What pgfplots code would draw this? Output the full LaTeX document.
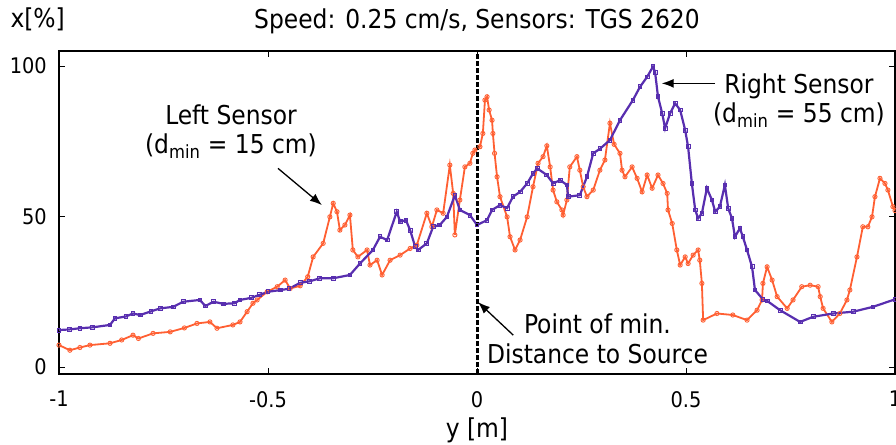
\documentclass[border=0pt]{standalone}
\usepackage{fontspec}
\setmainfont{DejaVu Sans Condensed}
\usepackage{pgfplots}
\pgfplotsset{compat=1.18}
\usetikzlibrary{arrows.meta}
\definecolor{blueC}{RGB}{88,46,175}
\definecolor{orangeC}{RGB}{255,95,50}
\newcommand\tx{\fontsize{26}{31}\selectfont}
\newcommand\tk{\fontsize{21.5}{25}\selectfont}
\begin{document}
\begin{tikzpicture}
\begin{axis}[
 width=836pt, height=323pt, scale only axis,
 xmin=-1, xmax=1, ymin=-2.3, ymax=105,
 xtick={-1,-0.5,0,0.5,1}, xticklabels={-1,-0.5,0,0.5,1},
 ytick={0,50,100}, yticklabels={0,50,100},
 tick align=inside, major tick length=6pt,
 tick style={black, line width=1pt},
 axis line style={line width=1.2pt},
 xticklabel style={font=\tk, inner sep=0pt, yshift=-17pt},
 yticklabel style={font=\tk, inner sep=0pt, xshift=-12pt},
 clip=false,
]
% Left sensor (orange)
\addplot[color=orangeC, line width=1.8pt, mark=o, mark size=2.1pt, mark options={solid, line width=0.9pt}] coordinates {
(-1.000,7.3) (-0.974,5.6) (-0.950,6.5) (-0.926,7.3) (-0.878,7.9) (-0.850,9.0)
(-0.823,10.6) (-0.810,9.5) (-0.775,11.2) (-0.734,11.7) (-0.700,13.0) (-0.670,14.5)
(-0.639,15.0) (-0.622,12.9) (-0.584,14.0) (-0.567,15.0) (-0.550,18.4) (-0.536,21.2)
(-0.526,22.3) (-0.502,25.0) (-0.478,26.7) (-0.459,28.9) (-0.447,26.1) (-0.423,27.0)
(-0.405,30.0) (-0.392,36.6) (-0.368,41.1) (-0.352,49.9) (-0.344,54.4) (-0.335,51.6)
(-0.328,45.5) (-0.316,47.2) (-0.304,50.5) (-0.297,38.9) (-0.285,36.6) (-0.263,38.9)
(-0.256,33.9) (-0.239,35.5) (-0.227,30.6) (-0.208,35.5) (-0.184,37.2) (-0.160,39.4)
(-0.144,40.5) (-0.120,51.1) (-0.108,46.6) (-0.096,52.2) (-0.081,51.1) (-0.065,67.1)
(-0.057,57.7) (-0.053,43.9) (-0.041,55.5) (-0.029,66.5) (-0.017,67.7) (-0.010,71.0)
(-0.005,72.1) (0.007,73.2) (0.014,77.6) (0.019,88.7) (0.024,89.8) (0.029,85.4)
(0.036,82.0) (0.038,77.6) (0.042,71.0) (0.048,63.2) (0.055,56.6) (0.072,49.9)
(0.079,43.3) (0.091,38.9) (0.103,42.2) (0.120,49.9) (0.134,59.9) (0.146,67.7)
(0.158,69.9) (0.167,73.5) (0.175,66.5) (0.182,58.8) (0.191,54.9) (0.203,52.2)
(0.206,50.5) (0.215,55.5) (0.222,66.5) (0.239,69.9) (0.246,65.4) (0.254,59.9)
(0.263,56.6) (0.278,58.8) (0.294,65.4) (0.306,68.8) (0.318,81.0) (0.328,74.0)
(0.342,71.0) (0.347,65.4) (0.354,63.2) (0.371,66.5) (0.383,62.7) (0.395,58.2)
(0.407,63.8) (0.419,59.4) (0.433,63.8) (0.445,61.0) (0.455,57.7) (0.457,52.2)
(0.467,47.7) (0.478,38.9) (0.486,33.9) (0.498,36.6) (0.505,34.4) (0.517,37.2)
(0.529,38.9) (0.533,35.5) (0.538,27.8) (0.541,15.6) (0.574,17.8) (0.612,17.3)
(0.646,15.6) (0.670,18.9) (0.682,22.3) (0.684,27.8) (0.694,33.3) (0.706,28.9)
(0.718,23.4) (0.742,19.5) (0.756,22.3) (0.777,26.7) (0.797,27.2) (0.816,26.7)
(0.821,23.4) (0.828,19.5) (0.849,15.0) (0.868,17.8) (0.885,22.3) (0.892,25.6)
(0.909,36.6) (0.923,46.6) (0.935,46.6) (0.945,49.9) (0.952,56.6) (0.964,62.7)
(0.976,61.0) (0.983,58.8) (0.995,53.3) (1.000,52.0)
};
% Right sensor (blue)
\addplot[color=blueC, line width=2.2pt, mark=square, mark size=1.9pt, mark options={solid, line width=0.9pt}] coordinates {
(-1.000,12.3) (-0.975,12.5) (-0.950,12.9) (-0.920,13.2) (-0.878,14.0) (-0.866,16.2)
(-0.840,16.8) (-0.823,17.8) (-0.806,17.3) (-0.780,18.5) (-0.758,19.5) (-0.727,20.0)
(-0.703,21.7) (-0.663,22.3) (-0.650,20.3) (-0.630,21.7) (-0.607,21.0) (-0.580,21.2)
(-0.567,22.3) (-0.540,23.0) (-0.520,24.0) (-0.500,25.0) (-0.470,25.6) (-0.450,26.0)
(-0.423,28.0) (-0.400,28.5) (-0.376,29.5) (-0.344,29.5) (-0.304,30.6) (-0.280,34.4)
(-0.249,38.9) (-0.232,43.3) (-0.215,42.2) (-0.192,51.6) (-0.184,48.3) (-0.170,48.8)
(-0.160,45.5) (-0.148,40.0) (-0.141,38.9) (-0.120,41.1) (-0.105,46.6) (-0.089,47.2)
(-0.072,49.9) (-0.053,57.1) (-0.041,52.2) (-0.017,50.5) (0.000,47.2) (0.024,48.8)
(0.036,52.2) (0.055,53.8) (0.072,52.8) (0.086,56.6) (0.103,58.2) (0.120,61.0)
(0.134,64.3) (0.144,66.0) (0.167,63.8) (0.182,61.0) (0.199,62.1) (0.215,60.5)
(0.218,56.6) (0.246,57.1) (0.263,63.2) (0.278,71.0) (0.294,72.5) (0.318,75.4)
(0.342,82.0) (0.373,88.7) (0.390,93.1) (0.407,96.4) (0.421,99.8) (0.426,98.0)
(0.433,89.8) (0.443,84.3) (0.450,79.3) (0.462,84.3) (0.474,87.6) (0.486,85.4)
(0.498,78.7) (0.505,73.2) (0.514,61.0) (0.522,52.2) (0.529,49.4) (0.538,51.1)
(0.550,59.4) (0.562,55.5) (0.570,51.6) (0.581,53.3) (0.593,60.5) (0.601,52.7)
(0.610,49.4) (0.617,43.3) (0.629,46.1) (0.636,43.3) (0.646,38.9) (0.658,33.3)
(0.665,25.6) (0.684,22.5) (0.694,22.0) (0.725,18.9) (0.773,15.0) (0.804,16.7)
(0.852,17.8) (0.900,18.4) (0.947,20.0) (1.000,22.5)
};
% point of minimum distance
\addplot[black, line width=3pt, dash pattern=on 5pt off 2pt] coordinates {(0,-2.3) (0,105)};
% texts
\node[anchor=base, font=\tx] at (rel axis cs:0.5,1) [yshift=22.7pt] {Speed: 0.25 cm/s, Sensors: TGS 2620};
\node[anchor=base west, font=\tx] at (rel axis cs:0,1) [xshift=-52pt, yshift=23pt] {x[\%]};
\node[anchor=base, font=\tx] at (rel axis cs:0.5,0) [yshift=-63pt] {y [m]};
\node[anchor=base, font=\tx] at (axis cs:-0.5885,80.7) {Left Sensor};
\node[anchor=base, font=\tx] at (axis cs:-0.5885,71.1) {(d\textsubscript{min} = 15 cm)};
\node[anchor=base, font=\tx] at (axis cs:0.7703,90.9) {Right Sensor};
\node[anchor=base, font=\tx] at (axis cs:0.7703,81.4) {(d\textsubscript{min} = 55 cm)};
\node[anchor=base, font=\tx] at (axis cs:0.2883,11.2) {Point of min.};
\node[anchor=base, font=\tx] at (axis cs:0.2883,1.3) {Distance to Source};
\draw[line width=1.3pt, -{Latex[length=12pt,width=9pt]}] (axis cs:-0.476,66.0) -- (axis cs:-0.371,53.8);
\draw[line width=1.3pt, -{Latex[length=12pt,width=9pt]}] (axis cs:0.5694,94.25) -- (axis cs:0.4418,94.25);
\draw[line width=1.3pt, -{Latex[length=12pt,width=9pt]}] (axis cs:0.0868,10.6) -- (axis cs:0.0024,21.6);
\coordinate (bl) at (rel axis cs:0,0);
\coordinate (tr) at (rel axis cs:1,1);
\end{axis}
\pgfresetboundingbox
\path ([shift={(-59pt,-70pt)}]bl) rectangle ([shift={(1pt,51pt)}]tr);
\end{tikzpicture}
\end{document}
